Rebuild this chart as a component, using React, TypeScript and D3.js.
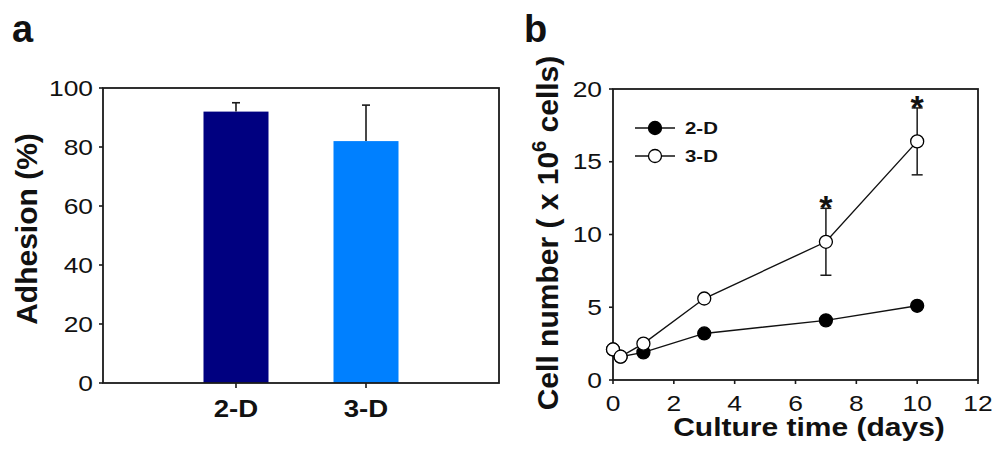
import React from "react";
import * as d3 from "d3";

const W = 1005;
const H = 455;
const FONT = "'Liberation Sans', Arial, Helvetica, sans-serif";
const SX = 1.2; // the source figure is stretched a little horizontally

// panel a: adhesion
const adhesionCats = ["2-D", "3-D"];
const adhesionMean = [92, 82];
const adhesionErr = [3, 12.2];
const adhesionColors = ["#000080", "#0080ff"];
const adhesionTicks = [0, 20, 40, 60, 80, 100];

// panel b: cell number over culture time
const days = [0, 0.25, 1, 3, 7, 10];
const cells2D = [2.1, 1.6, 1.9, 3.2, 4.1, 5.1];
const cells3D = [2.1, 1.6, 2.5, 5.6, 9.5, 16.4];
const cells3DErr = [0, 0, 0, 0, 2.3, 2.3];
const signifDays = [7, 10];
const dayTicks = [0, 2, 4, 6, 8, 10, 12];
const cellTicks = [0, 5, 10, 15, 20];
const legendNames = ["2-D", "3-D"];

const AXIS = "#1a1a1a";

function StretchText({ x, y, size, anchor = "middle", weight = 400, baseline, children }: any) {
  return (
    <text
      transform={`translate(${x},${y}) scale(${SX},1)`}
      textAnchor={anchor}
      dominantBaseline={baseline}
      fontSize={size}
      fontWeight={weight}
      fill="#111"
    >
      {children}
    </text>
  );
}

function PanelA() {
  const left = 103, right = 499, top = 88, bottom = 383;
  const x = d3.scalePoint<string>().domain(adhesionCats).range([left, right]).padding(1.023);
  const y = d3.scaleLinear().domain([0, 100]).range([bottom, top]);
  const bw = x.step() * 0.5;

  return (
    <g>
      <text x={12} y={42} fontSize={38} fontWeight={700} fill="#111">a</text>

      {adhesionCats.map((c, i) => (
        <rect
          key={c}
          x={x(c)! - bw / 2}
          y={y(adhesionMean[i])}
          width={bw}
          height={y(0) - y(adhesionMean[i])}
          fill={adhesionColors[i]}
        />
      ))}
      {adhesionCats.map((c, i) => {
        const cx = x(c)!;
        const yt = y(adhesionMean[i] + adhesionErr[i]);
        return (
          <g key={"e" + c} stroke={AXIS} strokeWidth={1.6}>
            <line x1={cx} x2={cx} y1={y(adhesionMean[i])} y2={yt} />
            <line x1={cx - 4} x2={cx + 4} y1={yt} y2={yt} />
          </g>
        );
      })}

      <rect x={left} y={top} width={right - left} height={bottom - top} fill="none" stroke={AXIS} strokeWidth={1.8} />

      {adhesionTicks.map((t) => (
        <g key={t}>
          <line x1={left - 4} x2={left} y1={y(t)} y2={y(t)} stroke={AXIS} strokeWidth={1.6} />
          <StretchText x={left - 10} y={y(t)} size={22} anchor="end" baseline="central">{t}</StretchText>
        </g>
      ))}
      {adhesionCats.map((c) => (
        <g key={"t" + c}>
          <line x1={x(c)!} x2={x(c)!} y1={bottom} y2={bottom + 5} stroke={AXIS} strokeWidth={1.6} />
          <StretchText x={x(c)!} y={417} size={23} weight={700}>{c}</StretchText>
        </g>
      ))}

      <text transform="translate(37,229) rotate(-90)" textAnchor="middle" fontSize={30} fontWeight={700} fill="#111">
        Adhesion (%)
      </text>
    </g>
  );
}

function PanelB() {
  const left = 613, right = 978, top = 89, bottom = 380;
  const x = d3.scaleLinear().domain([0, 12]).range([left, right]);
  const y = d3.scaleLinear().domain([0, 20]).range([bottom, top]);
  const line = d3.line<number>().x((_, i) => x(days[i])).y((d) => y(d));
  const r = 6.5;

  return (
    <g>
      <text x={524} y={42} fontSize={38} fontWeight={700} fill="#111">b</text>

      <rect x={left} y={top} width={right - left} height={bottom - top} fill="none" stroke={AXIS} strokeWidth={1.8} />

      {cellTicks.map((t) => (
        <g key={t}>
          <line x1={left - 4} x2={left} y1={y(t)} y2={y(t)} stroke={AXIS} strokeWidth={1.6} />
          <StretchText x={left - 11} y={y(t)} size={22} anchor="end" baseline="central">{t}</StretchText>
        </g>
      ))}
      {dayTicks.map((t) => (
        <g key={"x" + t}>
          <line x1={x(t)} x2={x(t)} y1={bottom} y2={bottom + 4} stroke={AXIS} strokeWidth={1.6} />
          <StretchText x={x(t)} y={403} size={22} baseline="central">{t}</StretchText>
        </g>
      ))}

      {/* error bars for 3-D */}
      {days.map((d, i) =>
        cells3DErr[i] > 0 ? (
          <g key={"err" + d} stroke={AXIS} strokeWidth={1.5}>
            <line x1={x(d)} x2={x(d)} y1={y(cells3D[i] - cells3DErr[i])} y2={y(cells3D[i] + cells3DErr[i])} />
            <line x1={x(d) - 5.5} x2={x(d) + 5.5} y1={y(cells3D[i] + cells3DErr[i])} y2={y(cells3D[i] + cells3DErr[i])} />
            <line x1={x(d) - 5.5} x2={x(d) + 5.5} y1={y(cells3D[i] - cells3DErr[i])} y2={y(cells3D[i] - cells3DErr[i])} />
          </g>
        ) : null
      )}

      <path d={line(cells2D)!} fill="none" stroke="#111" strokeWidth={1.4} />
      {days.map((d, i) => (
        <circle key={"f" + d} cx={x(d)} cy={y(cells2D[i])} r={r} fill="#000" stroke="#000" strokeWidth={1.3} />
      ))}
      <path d={line(cells3D)!} fill="none" stroke="#111" strokeWidth={1.4} />
      {days.map((d, i) => (
        <circle key={"o" + d} cx={x(d)} cy={y(cells3D[i])} r={r} fill="#fff" stroke="#000" strokeWidth={1.3} />
      ))}

      {signifDays.map((d) => {
        const i = days.indexOf(d);
        return (
          <text key={"s" + d} x={x(d)} y={y(cells3D[i] + cells3DErr[i]) + 11} textAnchor="middle" fontSize={34} fontWeight={700} fill="#111">
            *
          </text>
        );
      })}

      {/* legend */}
      {legendNames.map((n, i) => {
        const ly = 128 + i * 28;
        return (
          <g key={n}>
            <line x1={635} x2={675} y1={ly} y2={ly} stroke="#111" strokeWidth={1.4} />
            <circle cx={655} cy={ly} r={r} fill={i === 0 ? "#000" : "#fff"} stroke="#000" strokeWidth={1.3} />
            <StretchText x={685} y={ly} size={17} anchor="start" weight={700} baseline="central">{n}</StretchText>
          </g>
        );
      })}

      <StretchText x={809} y={436} size={25} weight={700}>Culture time (days)</StretchText>

      <text transform="translate(558,233) rotate(-90)" textAnchor="middle" fontSize={30} fontWeight={700} fill="#111">
        Cell number ( x 10
        <tspan fontSize={20} dy={-12}>6</tspan>
        <tspan dy={12}> cells)</tspan>
      </text>
    </g>
  );
}

export default function App() {
  return (
    <div style={{ position: "absolute", left: 0, top: 0 }}>
      <svg width={W} height={H} style={{ display: "block", fontFamily: FONT, background: "#fff" }}>
        <rect width={W} height={H} fill="#fff" />
        <PanelA />
        <PanelB />
      </svg>
    </div>
  );
}
